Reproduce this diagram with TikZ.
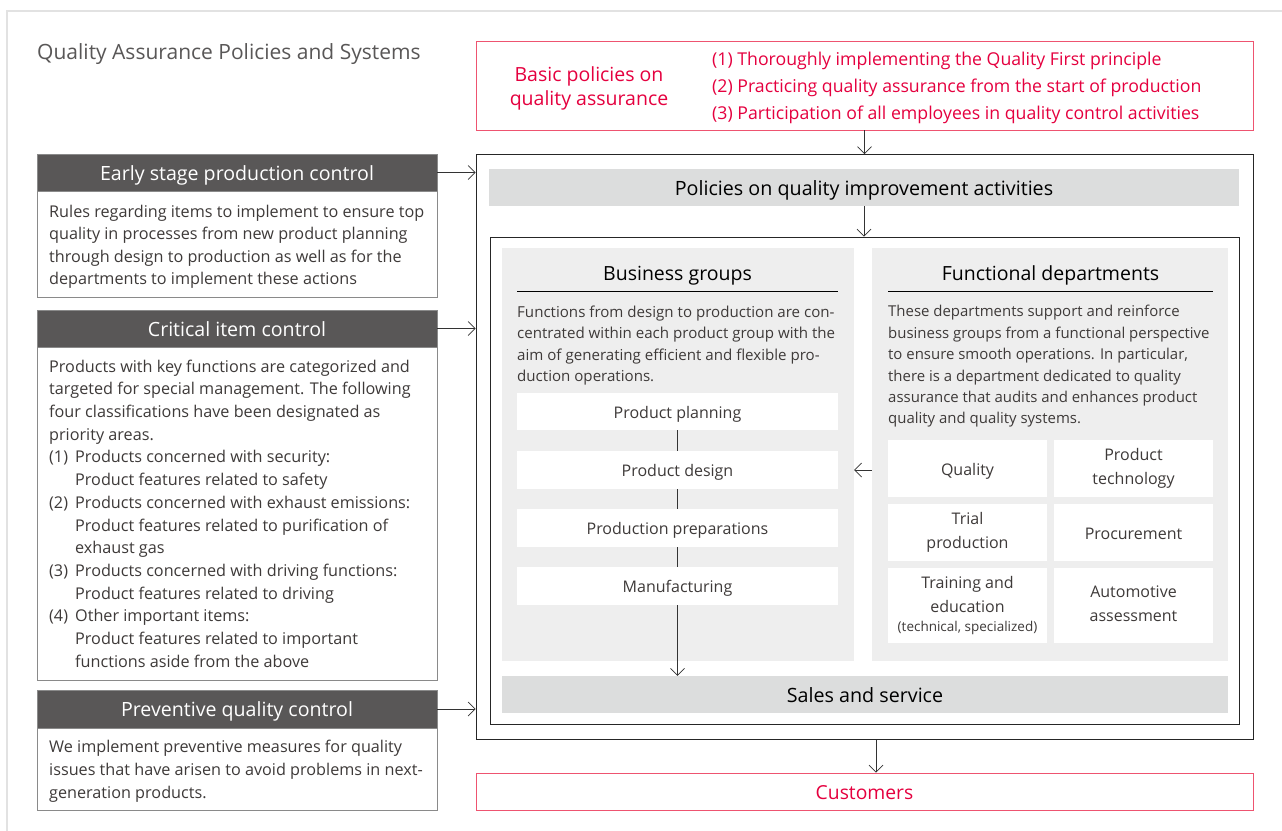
\documentclass[tikz,border=0pt]{standalone}
\usepackage{fontspec}
\setmainfont{Open Sans}
\usetikzlibrary{arrows.meta}
\definecolor{redtxt}{HTML}{E5003F}
\definecolor{redline}{HTML}{EE5470}
\definecolor{darkhd}{HTML}{595757}
\definecolor{txt}{HTML}{3E3A39}
\definecolor{barg}{HTML}{DCDDDD}
\definecolor{panelg}{HTML}{EEEEEE}
\definecolor{boxline}{HTML}{8A8A8A}
\definecolor{frameg}{HTML}{E2E2E2}
\newcommand{\topstrut}{\rule{0pt}{\dimexpr0.79em+5pt\relax}}
\newcommand{\botstrut}{\rule[-0.25em]{0pt}{0pt}}
\begin{document}
\begin{tikzpicture}[x=1pt,y=-1pt,
  ctr/.style={execute at begin node=\topstrut, execute at end node=\botstrut},
  hd/.style={ctr, fill=darkhd, draw=boxline, text=white, minimum width=400pt, inner sep=0pt, font=\fontsize{19.6}{22}\selectfont},
  bd/.style={draw=boxline, fill=white, minimum width=400pt, inner sep=0pt},
  para/.style={anchor=north west, align=left, inner sep=0pt, text=txt, execute at begin node={\rule{0pt}{12pt}}},
  wbox/.style={ctr, fill=white, inner sep=0pt, text=txt, align=center, font=\fontsize{16}{24}\selectfont},
  bar/.style={ctr, fill=barg, inner sep=0pt, text=black, font=\fontsize{19.7}{22}\selectfont},
  panel/.style={fill=panelg, inner sep=0pt},
  frame/.style={draw=black!85, line width=0.8pt, inner sep=0pt},
  redbox/.style={draw=redline, line width=0.9pt, inner sep=0pt, text=redtxt},
  arr/.style={draw=black!80, line width=0.7pt, -{Straight Barb[length=7pt,width=14pt,line width=0.7pt]}},
  conn/.style={draw=black!80, line width=0.7pt},
  ttl/.style={ctr, inner sep=0pt, text=black, font=\fontsize{19.5}{22}\selectfont},
  ul/.style={draw=black, line width=0.8pt}]
\useasboundingbox (0,0) rectangle (1282,830);
\fill[white] (0,0) rectangle (1282,830);
\draw[frameg, line width=1.4pt] (7,11) rectangle (1300,850);

% title
\node[ctr, anchor=west, inner sep=0pt, text=darkhd, font=\fontsize{21}{24}\selectfont] (title) at (37,51) {Quality Assurance Policies and Systems};

% basic policies
\node[redbox, minimum width=777pt, minimum height=89pt] (basic) at (864.5,85.5) {};
\node[ctr, inner sep=0pt, align=center, text=redtxt, font=\fontsize{19.5}{24}\selectfont] (bp) at (589,88.5) {Basic policies on\\quality assurance};
\node[ctr, anchor=west, inner sep=0pt, align=left, text=redtxt, font=\fontsize{17.7}{27}\selectfont] (items) at (712,88) {(1) Thoroughly implementing the Quality First principle\\(2) Practicing quality assurance from the start of production\\(3) Participation of all employees in quality control activities};

% big frame
\node[frame, minimum width=777pt, minimum height=585pt] (big) at (864.5,447) {};
\node[bar, minimum width=750pt, minimum height=37pt] (pol) at (864,187.5) {Policies on quality improvement activities};
\node[frame, minimum width=749pt, minimum height=487pt] (inner) at (864.5,480.5) {};

% panels
\node[panel, minimum width=352pt, minimum height=413pt] (bgp) at (678,454.5) {};
\node[panel, minimum width=356pt, minimum height=413pt] (fdp) at (1050,454.5) {};
\node[bar, minimum width=726pt, minimum height=37pt] (sales) at (865,694.5) {Sales and service};

% business groups
\node[ttl] (bgt) at (677.5,273) {Business groups};
\draw[ul] (517,291) -- (838,291);
\node[para, font=\fontsize{15.1}{21.4}\selectfont] (bgtx) at (517,305.5) {Functions from design to production are con-\\centrated within each product group with the\\aim of generating efficient and flexible pro-\\duction operations.};
\node[wbox, minimum width=321pt, minimum height=37pt] (pp) at (677.5,411.5) {Product planning};
\node[wbox, minimum width=321pt, minimum height=38pt] (pd) at (677.5,470) {Product design};
\node[wbox, minimum width=321pt, minimum height=38pt] (prep) at (677.5,528) {Production preparations};
\node[wbox, minimum width=321pt, minimum height=38pt] (mf) at (677.5,586) {Manufacturing};

% functional departments
\node[ttl] (fdt) at (1050.5,273) {Functional departments};
\draw[ul] (888,291) -- (1213,291);
\node[para, font=\fontsize{14.95}{21.4}\selectfont] (fdtx) at (888,305.2) {These departments support and reinforce\\business groups from a functional perspective\\to ensure smooth operations. In particular,\\there is a department dedicated to quality\\assurance that audits and enhances product\\quality and quality systems.};
\node[wbox, minimum width=159pt, minimum height=57pt] (q) at (967.5,468.5) {Quality};
\node[wbox, minimum width=159pt, minimum height=57pt] (pt) at (1133.5,468.5) {Product\\technology};
\node[wbox, minimum width=159pt, minimum height=57pt] (tp) at (967.5,532.5) {Trial\\production};
\node[wbox, minimum width=159pt, minimum height=57pt] (proc) at (1133.5,532.5) {Procurement};
\node[wbox, minimum width=159pt, minimum height=75pt] (te) at (967.5,605.5) {Training and\\education\\[-5pt]{\fontsize{13.5}{15}\selectfont (technical, specialized)}};
\node[wbox, minimum width=159pt, minimum height=75pt] (aa) at (1133.5,605.5) {Automotive\\assessment};

% customers
\node[redbox, ctr, minimum width=777pt, minimum height=37pt, font=\fontsize{19.3}{22}\selectfont] (cust) at (864.5,791.5) {Customers};

% left column
\node[hd, minimum height=37pt] (eh) at (237,172.5) {Early stage production control};
\node[bd, minimum height=106pt] (eb) at (237,244) {};
\node[para, font=\fontsize{16.2}{22.6}\selectfont] (ebt) at (49,204.5) {Rules regarding items to implement to ensure top\\quality in processes from new product planning\\through design to production as well as for the\\departments to implement these actions};

\node[hd, minimum height=37pt] (ch) at (237,328.5) {Critical item control};
\node[bd, minimum height=333pt] (cb) at (237,513.5) {};
\node[para, font=\fontsize{16.2}{22.7}\selectfont] (cbt) at (49,359.5) {Products with key functions are categorized and\\targeted for special management. The following\\four classifications have been designated as\\priority areas.\\
\makebox[26pt][l]{(1)}Products concerned with security:\\
\hspace*{26pt}Product features related to safety\\
\makebox[26pt][l]{(2)}Products concerned with exhaust emissions:\\
\hspace*{26pt}Product features related to purification of\\
\hspace*{26pt}exhaust gas\\
\makebox[26pt][l]{(3)}Products concerned with driving functions:\\
\hspace*{26pt}Product features related to driving\\
\makebox[26pt][l]{(4)}Other important items:\\
\hspace*{26pt}Product features related to important\\
\hspace*{26pt}functions aside from the above};

\node[hd, minimum height=38pt] (ph) at (237,709) {Preventive quality control};
\node[bd, minimum height=82pt] (pb) at (237,769) {};
\node[para, font=\fontsize{16.2}{23}\selectfont] (pbt) at (49,740) {We implement preventive measures for quality\\issues that have arisen to avoid problems in next-\\generation products.};

% connectors
\draw[arr] (basic.south) -- (basic.south |- big.north);
\draw[arr] (pol.south) -- (pol.south |- inner.north);
\draw[arr] (eh.east) -- (eh.east -| big.west);
\draw[arr] (ch.east) -- (ch.east -| big.west);
\draw[arr] (ph.east) -- (ph.east -| big.west);
\draw[conn] (pp.south) -- (pd.north);
\draw[conn] (pd.south) -- (prep.north);
\draw[conn] (prep.south) -- (mf.north);
\draw[arr] (mf.south) -- (mf.south |- sales.north);
\draw[arr] (fdp.west |- pd.east) -- (bgp.east |- pd.east);
\coordinate (bigb) at (876,739.5);
\draw[arr] (bigb) -- (bigb |- cust.north);
\end{tikzpicture}
\end{document}
